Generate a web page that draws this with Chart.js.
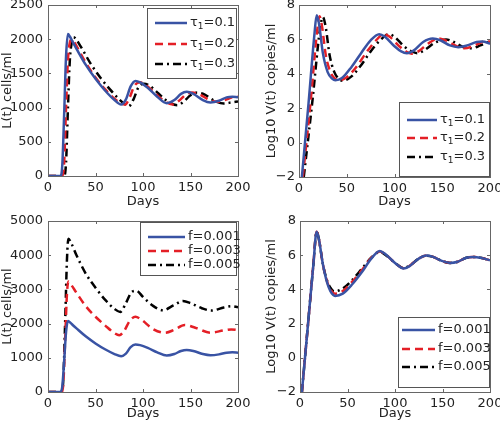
<!DOCTYPE html>
<html>
<head>
<meta charset="utf-8">
<script src="https://cdn.jsdelivr.net/npm/chart.js@4.4.0/dist/chart.umd.min.js"></script>
<style>
  body { margin: 0; background: #fff; }
  #wrap { position: relative; width: 500px; height: 424px; }
  #wrap canvas { position: absolute; }
</style>
</head>
<body>
<div id="wrap">
  <canvas id="c1" width="250" height="212" style="left:0;top:0"></canvas>
  <canvas id="c2" width="250" height="212" style="left:250px;top:0"></canvas>
  <canvas id="c3" width="250" height="212" style="left:0;top:212px"></canvas>
  <canvas id="c4" width="250" height="212" style="left:250px;top:212px"></canvas>
</div>
<script>
// legend labels
const tauLabels = ['τ₁=0.1', 'τ₁=0.2', 'τ₁=0.3'];
const fLabels = ['f=0.001', 'f=0.003', 'f=0.005'];

// tick labels
const dayTicks = [0, 50, 100, 150, 200];
const lTauTicks = [0, 500, 1000, 1500, 2000, 2500];
const lFTicks = [0, 1000, 2000, 3000, 4000, 5000];
const vTicks = [-2, 0, 2, 4, 6, 8];

// top left: L(t) for different tau
const lTauDays1 = [0, 13, 15, 17, 19, 21, 23, 26, 30, 40, 50, 60, 70, 77, 82, 87, 92, 97, 105, 115, 125, 133, 140, 146, 153, 163, 171, 180, 188, 194, 200];
const lTauVal1 = [0, 0, 150, 900, 1750, 2075, 2040, 1960, 1860, 1620, 1420, 1250, 1110, 1045, 1120, 1310, 1390, 1370, 1290, 1160, 1065, 1110, 1200, 1230, 1200, 1110, 1075, 1100, 1150, 1160, 1150];
const lTauDays2 = [0, 15, 17, 19, 21, 23, 25, 28, 32, 40, 50, 60, 70, 76, 81, 86, 91, 97, 103, 112, 122, 131, 138, 145, 152, 160, 170, 178, 186, 194, 200];
const lTauVal2 = [0, 0, 200, 1000, 1700, 1950, 1995, 1950, 1850, 1650, 1440, 1270, 1130, 1070, 1045, 1150, 1320, 1370, 1330, 1220, 1100, 1045, 1100, 1190, 1220, 1190, 1110, 1085, 1110, 1150, 1160];
const lTauDays3 = [0, 17, 19, 21, 23, 25, 27, 30, 35, 45, 55, 65, 75, 80, 85, 90, 95, 101, 107, 116, 126, 136, 143, 150, 157, 165, 175, 185, 193, 200];
const lTauVal3 = [0, 0, 200, 1000, 1700, 1950, 2030, 1990, 1880, 1640, 1440, 1270, 1120, 1060, 1020, 1120, 1290, 1350, 1320, 1210, 1090, 1035, 1090, 1180, 1220, 1190, 1100, 1060, 1075, 1090];

// top right: log10 V(t) for different tau
const vTauDays1 = [3, 10, 16, 18.5, 21, 25, 30, 35, 38, 45, 55, 65, 75, 84, 90, 100, 107, 113, 120, 130, 140, 148, 158, 167, 176, 186, 192, 200];
const vTauVal1 = [-2, 2.3, 6.2, 7.4, 6.9, 5.2, 4.1, 3.7, 3.62, 3.75, 4.4, 5.2, 5.95, 6.3, 6.15, 5.6, 5.3, 5.2, 5.35, 5.85, 6.05, 5.95, 5.65, 5.55, 5.65, 5.85, 5.88, 5.75];
const vTauDays2 = [4, 12, 19, 21.5, 24, 28, 33, 38, 42, 50, 60, 70, 80, 89, 95, 105, 112, 118, 125, 135, 146, 155, 165, 173, 182, 192, 200];
const vTauVal2 = [-2, 2.3, 6.5, 7.35, 6.8, 5.1, 4.1, 3.7, 3.62, 3.8, 4.4, 5.2, 5.9, 6.3, 6.15, 5.6, 5.3, 5.17, 5.3, 5.75, 6.05, 5.9, 5.6, 5.48, 5.6, 5.85, 5.88];
const vTauDays3 = [5, 14, 22, 25, 28, 32, 37, 42, 46, 55, 65, 75, 85, 94, 100, 110, 118, 124, 132, 142, 154, 162, 172, 180, 190, 200];
const vTauVal3 = [-2, 2.4, 6.6, 7.3, 6.7, 5.1, 4.1, 3.7, 3.6, 3.85, 4.5, 5.3, 5.95, 6.3, 6.15, 5.6, 5.3, 5.2, 5.4, 5.8, 6.0, 5.85, 5.55, 5.48, 5.65, 5.9];

// bottom left: L(t) for different f
const lFDays1 = lTauDays1;
const lFVal1 = lTauVal1;
const lFDays2 = [0, 14, 16, 18, 20, 21.5, 24, 30, 40, 50, 60, 70, 75, 80, 86, 92, 98, 110, 123, 133, 144, 155, 171, 185, 193, 200];
const lFVal2 = [0, 0, 200, 1500, 2900, 3230, 3150, 2900, 2500, 2200, 1950, 1720, 1660, 1780, 2080, 2200, 2120, 1850, 1730, 1820, 1960, 1880, 1735, 1800, 1830, 1810];
const lFDays3 = [0, 14, 16, 18, 20, 21.5, 24, 30, 40, 50, 60, 70, 76, 82, 88, 93, 100, 110, 121, 132, 142, 150, 162, 172, 185, 193, 200];
const lFVal3 = [0, 0, 300, 2000, 3900, 4480, 4380, 4000, 3450, 3050, 2700, 2430, 2340, 2600, 2920, 2960, 2780, 2530, 2390, 2530, 2660, 2600, 2450, 2380, 2470, 2510, 2480];

// bottom right: log10 V(t) for different f
const vFDays1 = [2, 8, 14, 17.5, 20, 24, 28, 32, 37, 45, 55, 65, 75, 84, 90, 100, 109, 115, 125, 133, 140, 150, 158, 166, 175, 182, 190, 200];
const vFVal1 = [-2, 1.7, 5.4, 7.37, 6.9, 5.5, 4.5, 3.9, 3.62, 3.75, 4.3, 5.0, 5.8, 6.25, 6.05, 5.55, 5.22, 5.35, 5.8, 5.98, 5.9, 5.65, 5.55, 5.62, 5.85, 5.9, 5.85, 5.7];
const vFDays2 = [2, 8, 14, 17.5, 20, 24, 28, 32, 37, 45, 55, 65, 75, 84, 90, 100, 109, 115, 125, 133, 140, 150, 158, 166, 175, 182, 190, 200];
const vFVal2 = [-2, 1.7, 5.4, 7.37, 6.9, 5.5, 4.55, 4.0, 3.75, 3.9, 4.45, 5.12, 5.85, 6.22, 6.05, 5.55, 5.24, 5.37, 5.8, 5.98, 5.9, 5.65, 5.55, 5.62, 5.85, 5.9, 5.85, 5.7];
const vFDays3 = [2, 8, 14, 17.5, 20, 24, 28, 32, 36, 45, 55, 65, 75, 84, 90, 100, 109, 115, 125, 133, 140, 150, 158, 166, 175, 182, 190, 200];
const vFVal3 = [-2, 1.7, 5.4, 7.37, 6.9, 5.5, 4.6, 4.1, 3.88, 4.05, 4.55, 5.2, 5.85, 6.18, 6.02, 5.55, 5.25, 5.38, 5.8, 5.97, 5.9, 5.65, 5.55, 5.62, 5.85, 5.9, 5.85, 5.7];

// line styles for the three series
const lineStyles = [
  { color: '#3953a4', dash: [] },
  { color: '#e41f26', dash: [8, 5] },
  { color: '#000000', dash: [8, 4, 2, 4] }
];

Chart.defaults.font.family = 'DejaVu Sans';
Chart.defaults.font.size = 13;
Chart.defaults.color = '#222';

const toPoints = (days, vals) => days.map((d, i) => ({ x: d, y: vals[i] }));

const makeDatasets = (labels, series) => series.map((s, i) => ({
  label: labels[i],
  data: toPoints(s[0], s[1]),
  borderColor: lineStyles[i].color,
  borderDash: lineStyles[i].dash,
  borderWidth: 2.5,
  pointRadius: 0,
  cubicInterpolationMode: 'monotone',
  fill: false
}));

// frame round the plot with inward ticks
const axesBox = {
  id: 'axesBox',
  afterDatasetsDraw(chart) {
    const { ctx, chartArea: a, scales: { x, y } } = chart;
    ctx.save();
    ctx.strokeStyle = '#666';
    ctx.lineWidth = 1;
    ctx.setLineDash([]);
    ctx.strokeRect(a.left + 0.5, a.top + 0.5, a.right - a.left, a.bottom - a.top);
    ctx.beginPath();
    x.ticks.forEach(t => {
      const px = Math.round(x.getPixelForValue(t.value)) + 0.5;
      ctx.moveTo(px, a.bottom); ctx.lineTo(px, a.bottom - 3);
      ctx.moveTo(px, a.top); ctx.lineTo(px, a.top + 3);
    });
    y.ticks.forEach(t => {
      const py = Math.round(y.getPixelForValue(t.value)) + 0.5;
      ctx.moveTo(a.left, py); ctx.lineTo(a.left + 3, py);
      ctx.moveTo(a.right, py); ctx.lineTo(a.right - 3, py);
    });
    ctx.stroke();
    ctx.restore();
  }
};

// boxed legend inside the plot
const boxLegend = {
  id: 'boxLegend',
  afterDraw(chart, args, opts) {
    const ctx = chart.ctx;
    const [bx0, by0, bx1, by1] = opts.box;
    ctx.save();
    ctx.fillStyle = '#fff';
    ctx.fillRect(bx0, by0, bx1 - bx0, by1 - by0);
    ctx.strokeStyle = '#555';
    ctx.lineWidth = 1;
    ctx.strokeRect(bx0 + 0.5, by0 + 0.5, bx1 - bx0, by1 - by0);
    chart.data.datasets.forEach((ds, i) => {
      const y = opts.rows[i];
      ctx.strokeStyle = ds.borderColor;
      ctx.lineWidth = ds.borderWidth;
      ctx.setLineDash(ds.borderDash || []);
      ctx.beginPath();
      ctx.moveTo(opts.line[0], y);
      ctx.lineTo(opts.line[1], y);
      ctx.stroke();
      ctx.setLineDash([]);
      let x = opts.textX;
      ctx.fillStyle = '#222';
      ctx.textBaseline = 'middle';
      ctx.textAlign = 'left';
      for (const ch of ds.label) {
        if (ch === '₁') {
          ctx.font = '9px DejaVu Sans';
          ctx.fillText('1', x, y + 4);
          x += ctx.measureText('1').width;
        } else {
          ctx.font = '13px DejaVu Sans';
          ctx.fillText(ch, x, y);
          x += ctx.measureText(ch).width;
        }
      }
    });
    ctx.restore();
  }
};

const makeChart = (id, datasets, cfg) => new Chart(document.getElementById(id), {
  type: 'line',
  data: { datasets },
  plugins: [axesBox, boxLegend],
  options: {
    responsive: false,
    animation: false,
    layout: { padding: { left: 0, right: cfg.padRight, top: cfg.padTop, bottom: 0 } },
    plugins: {
      legend: { display: false },
      tooltip: { enabled: false },
      boxLegend: cfg.legend
    },
    scales: {
      x: {
        type: 'linear',
        min: 0, max: 200,
        grid: { display: false, drawTicks: false },
        border: { display: false },
        afterBuildTicks: s => { s.ticks = dayTicks.map(v => ({ value: v })); },
        afterFit: s => { s.height = cfg.xHeight; s.paddingLeft = 0; s.paddingRight = 0; },
        ticks: { padding: 4, maxRotation: 0 },
        title: { display: true, text: 'Days', padding: { top: 0, bottom: 3 } }
      },
      y: {
        type: 'linear',
        min: cfg.yTicks[0], max: cfg.yTicks[cfg.yTicks.length - 1],
        grid: { display: false, drawTicks: false },
        border: { display: false },
        afterBuildTicks: s => { s.ticks = cfg.yTicks.map(v => ({ value: v })); },
        afterFit: s => { s.width = cfg.yWidth; s.paddingTop = 0; s.paddingBottom = 0; },
        ticks: { padding: cfg.yTickPad, callback: v => String(v).replace('-', '−') },
        title: { display: true, text: cfg.yTitle, padding: { top: cfg.yTitlePad, bottom: 0 } }
      }
    }
  }
});

makeChart('c1', makeDatasets(tauLabels, [[lTauDays1, lTauVal1], [lTauDays2, lTauVal2], [lTauDays3, lTauVal3]]), {
  yTicks: lTauTicks, yTitle: 'L(t) cells/ml', yWidth: 48, yTickPad: 5, yTitlePad: 0,
  xHeight: 36, padRight: 12, padTop: 5,
  legend: { box: [147, 8, 236, 78], rows: [23, 44, 64], line: [155, 187], textX: 190 }
});

makeChart('c2', makeDatasets(tauLabels, [[vTauDays1, vTauVal1], [vTauDays2, vTauVal2], [vTauDays3, vTauVal3]]), {
  yTicks: vTicks, yTitle: 'Log10 V(t) copies/ml', yWidth: 49, yTickPad: 4, yTitlePad: 14,
  xHeight: 35, padRight: 10, padTop: 5,
  legend: { box: [149, 102, 239, 176], rows: [120, 138, 157], line: [157, 187], textX: 190 }
});

makeChart('c3', makeDatasets(fLabels, [[lFDays1, lFVal1], [lFDays2, lFVal2], [lFDays3, lFVal3]]), {
  yTicks: lFTicks, yTitle: 'L(t) cells/ml', yWidth: 48, yTickPad: 5, yTitlePad: 0,
  xHeight: 32, padRight: 12, padTop: 9,
  legend: { box: [140, 10, 236, 63], rows: [25, 39, 53], line: [148, 185], textX: 188 }
});

makeChart('c4', makeDatasets(fLabels, [[vFDays1, vFVal1], [vFDays2, vFVal2], [vFDays3, vFVal3]]), {
  yTicks: vTicks, yTitle: 'Log10 V(t) copies/ml', yWidth: 50, yTickPad: 4, yTitlePad: 14,
  xHeight: 32, padRight: 10, padTop: 9,
  legend: { box: [148, 105, 239, 175], rows: [118, 137, 155], line: [152, 185], textX: 188 }
});
</script>
</body>
</html>
